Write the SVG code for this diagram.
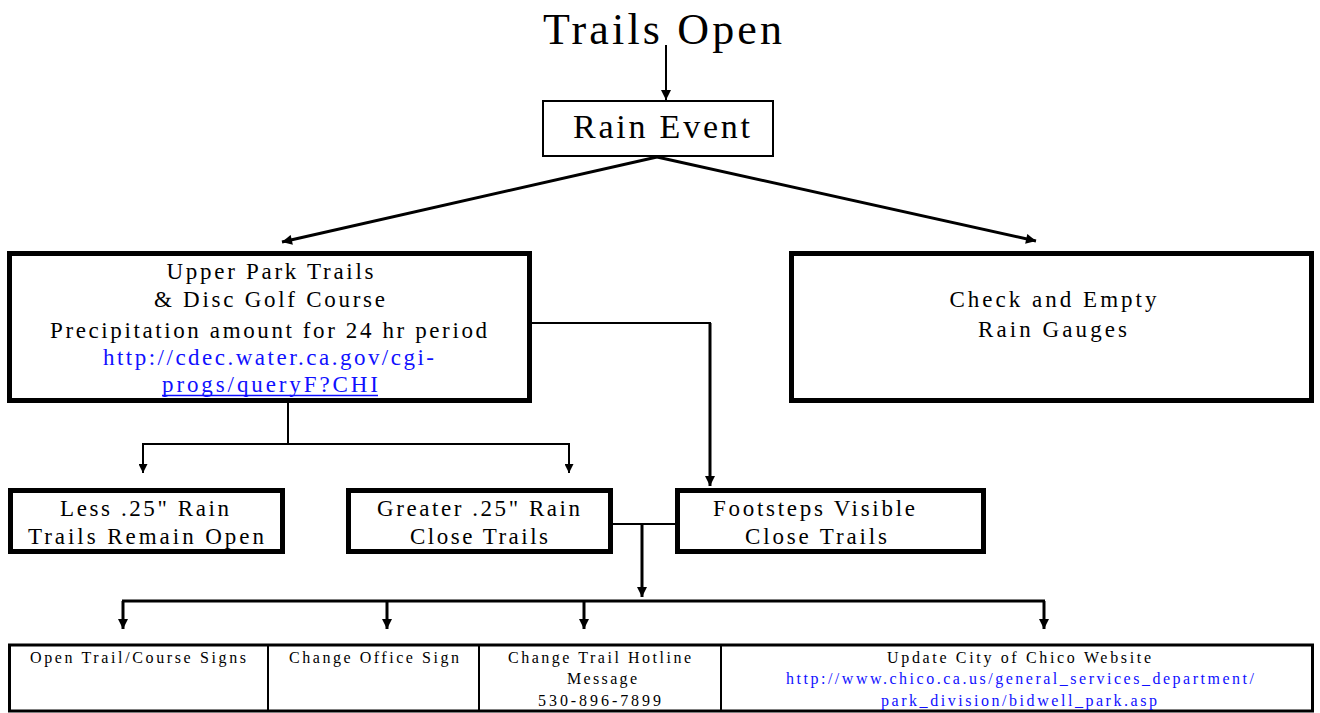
<svg xmlns="http://www.w3.org/2000/svg" width="1320" height="713" viewBox="0 0 1320 713">
<style>
text{font-family:"Liberation Serif","Times New Roman",serif;fill:#000;text-anchor:middle}
.t{font-size:44px}
.m{font-size:34px}
.n{font-size:23px}
.s{font-size:16px}
.lk{fill:#1010ff}
.thick{fill:#fff;stroke:#000;stroke-width:5}
.thin{fill:#fff;stroke:#000;stroke-width:2}
.c{fill:none;stroke:#000;stroke-width:2}
.c3{fill:none;stroke:#000;stroke-width:3}
</style>
<defs>
<marker id="ah" viewBox="0 0 10 10" refX="10" refY="5" markerWidth="11" markerHeight="10" markerUnits="userSpaceOnUse" orient="auto"><path d="M0,0 L10,5 L0,10 z" fill="#000"/></marker>
<marker id="ahs" viewBox="0 0 10 10" refX="10" refY="5" markerWidth="9" markerHeight="9" markerUnits="userSpaceOnUse" orient="auto"><path d="M0,0 L10,5 L0,10 z" fill="#000"/></marker>
</defs>
<rect width="1320" height="713" fill="#fff"/>

<g id="connectors">
<line class="c" x1="666" y1="45" x2="666" y2="100" marker-end="url(#ah)"/>
<line class="c3" x1="657" y1="157" x2="282" y2="242" marker-end="url(#ah)"/>
<line class="c3" x1="657" y1="157" x2="1036" y2="241" marker-end="url(#ah)"/>
<line class="c" x1="530" y1="323" x2="711" y2="323"/>
<line class="c3" x1="710" y1="323" x2="710" y2="486" marker-end="url(#ah)"/>
<line class="c" x1="288" y1="401" x2="288" y2="444"/>
<line class="c" x1="142" y1="444" x2="570" y2="444"/>
<line class="c" x1="143" y1="444" x2="143" y2="473" marker-end="url(#ahs)"/>
<line class="c" x1="569" y1="444" x2="569" y2="473" marker-end="url(#ahs)"/>
<line class="c" x1="611" y1="524" x2="676" y2="524"/>
<line class="c3" x1="642" y1="524" x2="642" y2="597" marker-end="url(#ah)"/>
<line class="c3" x1="122" y1="601" x2="1045" y2="601"/>
<line class="c3" x1="123" y1="601" x2="123" y2="629" marker-end="url(#ah)"/>
<line class="c3" x1="387" y1="601" x2="387" y2="629" marker-end="url(#ah)"/>
<line class="c3" x1="584" y1="601" x2="584" y2="629" marker-end="url(#ah)"/>
<line class="c3" x1="1044" y1="601" x2="1044" y2="629" marker-end="url(#ah)"/>
</g>

<g id="title">
<text class="t" x="662.5" y="44" textLength="239" lengthAdjust="spacing">Trails Open</text>
</g>

<g id="rain-event">
<rect class="thin" x="543" y="101" width="230" height="55"/>
<text class="m" x="661.5" y="138" textLength="177" lengthAdjust="spacing">Rain Event</text>
</g>

<g id="upper-park">
<rect class="thick" x="9.5" y="253.5" width="520" height="147"/>
<text class="n" x="270" y="279" textLength="207" lengthAdjust="spacing">Upper Park Trails</text>
<text class="n" x="269.5" y="307" textLength="231" lengthAdjust="spacing">&amp; Disc Golf Course</text>
<text class="n" x="268.5" y="338" textLength="437" lengthAdjust="spacing">Precipitation amount for 24 hr period</text>
<text class="n lk" x="268.5" y="365" textLength="331" lengthAdjust="spacing">http://cdec.water.ca.gov/cgi-</text>
<text class="n lk" x="270" y="392" textLength="216" lengthAdjust="spacing">progs/queryF?CHI</text>
<line x1="162" y1="395.5" x2="378" y2="395.5" stroke="#1010ff" stroke-width="1.5"/>
</g>

<g id="check-gauges">
<rect class="thick" x="791.5" y="253.5" width="520" height="147"/>
<text class="n" x="1053" y="307" textLength="207" lengthAdjust="spacing">Check and Empty</text>
<text class="n" x="1052.5" y="337" textLength="149" lengthAdjust="spacing">Rain Gauges</text>
</g>

<g id="less-rain">
<rect class="thick" x="10.5" y="490.5" width="272" height="61"/>
<text class="n" x="144.5" y="516" textLength="169" lengthAdjust="spacing">Less .25" Rain</text>
<text class="n" x="146" y="544" textLength="236" lengthAdjust="spacing">Trails Remain Open</text>
</g>

<g id="greater-rain">
<rect class="thick" x="348.5" y="490.5" width="262" height="61"/>
<text class="n" x="478.5" y="516" textLength="203" lengthAdjust="spacing">Greater .25" Rain</text>
<text class="n" x="479" y="544" textLength="138" lengthAdjust="spacing">Close Trails</text>
</g>

<g id="footsteps">
<rect class="thick" x="677.5" y="490.5" width="306" height="61"/>
<text class="n" x="814" y="516" textLength="202" lengthAdjust="spacing">Footsteps Visible</text>
<text class="n" x="816" y="544" textLength="142" lengthAdjust="spacing">Close Trails</text>
</g>

<g id="actions-table">
<rect x="9.5" y="645" width="1303" height="66" fill="#fff" stroke="#000" stroke-width="3"/>
<line x1="268" y1="645" x2="268" y2="711" stroke="#000" stroke-width="2"/>
<line x1="479" y1="645" x2="479" y2="711" stroke="#000" stroke-width="2"/>
<line x1="721" y1="645" x2="721" y2="711" stroke="#000" stroke-width="2"/>
</g>

<g id="open-signs">
<text class="s" x="138" y="663" textLength="216" lengthAdjust="spacing">Open Trail/Course Signs</text>
</g>
<g id="office-sign">
<text class="s" x="374" y="663" textLength="170" lengthAdjust="spacing">Change Office Sign</text>
</g>
<g id="hotline">
<text class="s" x="599.5" y="663" textLength="183" lengthAdjust="spacing">Change Trail Hotline</text>
<text class="s" x="602" y="684" textLength="70" lengthAdjust="spacing">Message</text>
<text class="s" x="599.5" y="706" textLength="123" lengthAdjust="spacing">530-896-7899</text>
</g>
<g id="website">
<text class="s" x="1019" y="663" textLength="264" lengthAdjust="spacing">Update City of Chico Website</text>
<text class="s lk" x="1020" y="684" textLength="468" lengthAdjust="spacing">http://www.chico.ca.us/general_services_department/</text>
<text class="s lk" x="1019" y="706" textLength="276" lengthAdjust="spacing">park_division/bidwell_park.asp</text>
</g>
</svg>
